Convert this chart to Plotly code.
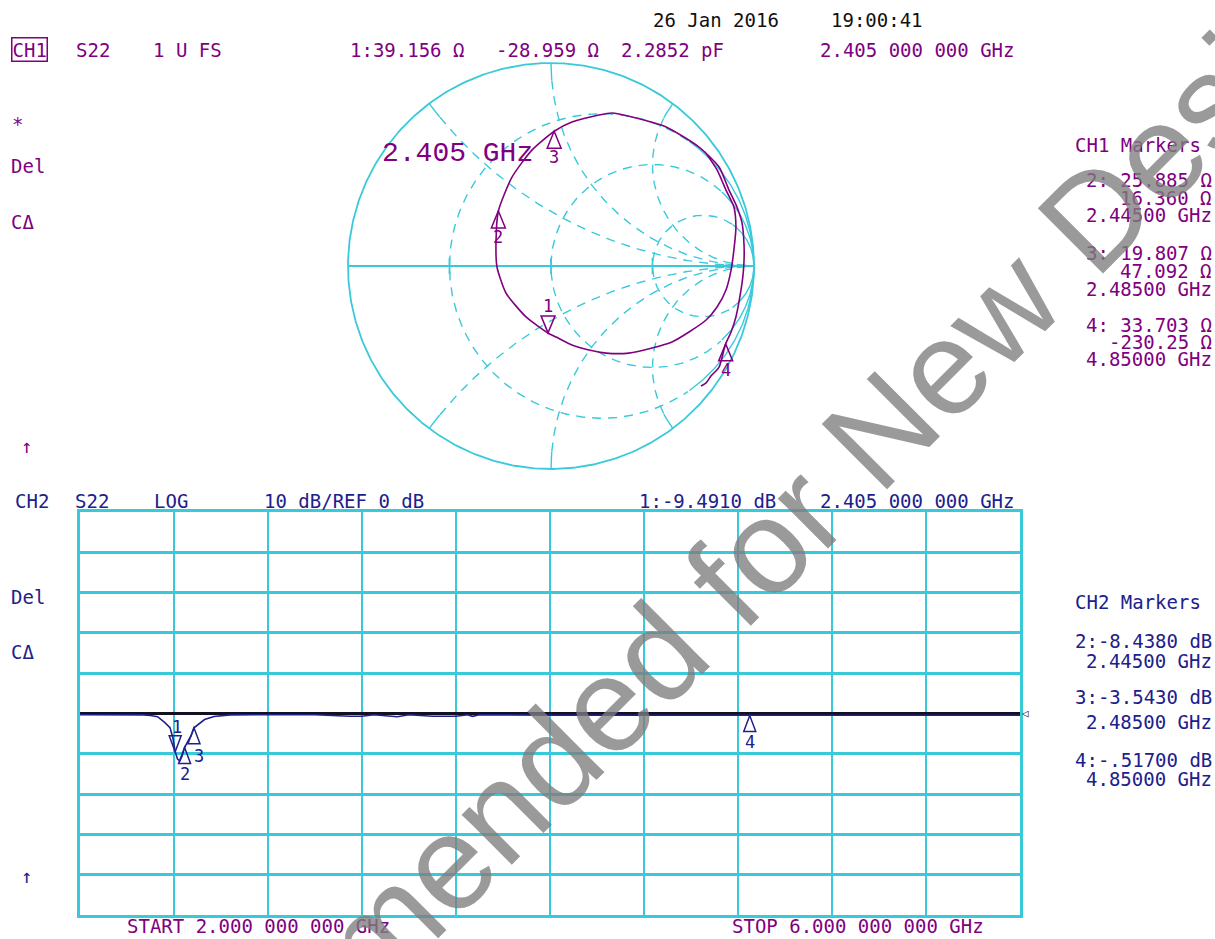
import numpy as np
import plotly.graph_objects as go

W, H = 1215, 939

# ---------------- data ----------------
# CH1 S22 Smith trace, reflection coefficient (2 -> 6 GHz order)
smith_re = [0.759, 0.818, 0.862, 0.901, 0.911, 0.901, 0.887, 0.862, 0.818, 0.764, 0.680, 0.596,
            0.498, 0.384, 0.271, 0.187, 0.103, 0.025, -0.015, -0.123, -0.222, -0.266, -0.271,
            -0.259, -0.192, -0.094, 0.016, 0.103, 0.236, 0.300, 0.399, 0.567, 0.729, 0.828,
            0.877, 0.916, 0.941, 0.951, 0.951, 0.946, 0.936, 0.911, 0.887, 0.860, 0.828, 0.788,
            0.764, 0.739]
smith_im = [0.562, 0.473, 0.374, 0.291, 0.192, 0.079, -0.020, -0.118, -0.202, -0.266, -0.325,
            -0.374, -0.404, -0.429, -0.429, -0.414, -0.389, -0.350, -0.330, -0.251, -0.133,
            -0.005, 0.113, 0.272, 0.438, 0.571, 0.664, 0.709, 0.744, 0.754, 0.734, 0.685,
            0.586, 0.488, 0.374, 0.291, 0.212, 0.103, 0.030, -0.044, -0.118, -0.251, -0.325,
            -0.384, -0.498, -0.542, -0.576, -0.591]

# CH1 markers (impedance readouts, ohms)
z0 = 50.0
mk_names = ["1", "2", "3", "4"]
mk_R = [39.156, 25.885, 19.807, 33.703]
mk_X = [-28.959, 16.360, 47.092, -230.25]

# CH2 S22 log magnitude trace
freq_ghz = [2.00, 2.10, 2.20, 2.27, 2.30, 2.33, 2.36, 2.383, 2.395, 2.405, 2.415, 2.425, 2.435,
            2.445, 2.46, 2.473, 2.485, 2.50, 2.53, 2.57, 2.64, 2.80, 3.00, 3.15, 3.20, 3.25,
            3.35, 3.40, 3.50, 3.60, 3.65, 3.67, 3.70, 4.00, 4.50, 4.85, 5.20, 5.60, 6.00]
mag_db = [-0.3, -0.3, -0.3, -0.35, -0.5, -0.8, -2.2, -3.5, -6.0, -9.49, -11.3, -11.8, -10.5,
          -8.44, -6.8, -5.5, -3.54, -2.8, -1.5, -0.75, -0.35, -0.3, -0.3, -0.7, -0.7, -0.3,
          -0.8, -0.3, -0.7, -0.7, -0.3, -0.7, -0.3, -0.4, -0.45, -0.517, -0.5, -0.45, -0.45]

# CH2 markers
mk2_f = [2.405, 2.445, 2.485, 4.85]
mk2_db = [-9.491, -8.438, -3.543, -0.517]

# Smith grid values
r_circles = [1 / 3, 1.0, 3.0]
x_arcs = [0.5, 1.0, 2.0]

# ---------------- styles ----------------
PURPLE = "#800080"
NAVY = "#20208c"
CYAN = "#38cadb"
MONO = "DejaVu Sans Mono"

fig = go.Figure()

# ---------- Smith chart grid ----------
def gam(z):
    return (z - 1) / (z + 1)

solid_x, solid_y, dash_x, dash_y = [], [], [], []

def add_curve(g):
    """split curve into solid (near rim) and dashed parts"""
    near = np.abs(g) > 0.915
    for i in range(len(g)):
        if near[i]:
            solid_x.append(g[i].real); solid_y.append(g[i].imag)
            dash_x.append(None); dash_y.append(None)
        else:
            dash_x.append(g[i].real); dash_y.append(g[i].imag)
            solid_x.append(None); solid_y.append(None)
    solid_x.append(None); solid_y.append(None)
    dash_x.append(None); dash_y.append(None)

th = np.linspace(0, 2 * np.pi, 500)
for r in r_circles:
    c = r / (1 + r); rad = 1 / (1 + r)
    add_curve(c + rad * np.exp(1j * th))

rr = np.concatenate([[0.0], np.logspace(-3, 2.7, 500)])
for x in x_arcs:
    for s in (1, -1):
        add_curve(gam(rr + 1j * s * x))

fig.add_trace(go.Scatter(x=dash_x, y=dash_y, mode="lines", xaxis="x2", yaxis="y2",
                         line=dict(color=CYAN, width=1.4, dash="9px,7px"), hoverinfo="skip"))
fig.add_trace(go.Scatter(x=solid_x, y=solid_y, mode="lines", xaxis="x2", yaxis="y2",
                         line=dict(color=CYAN, width=1.4), hoverinfo="skip"))
# outer circle
fig.add_trace(go.Scatter(x=np.cos(th), y=np.sin(th), mode="lines", xaxis="x2", yaxis="y2",
                         line=dict(color=CYAN, width=1.8), hoverinfo="skip"))
# real axis + ticks at left edges of r circles
ax_x = [-1, 1, None]; ax_y = [0, 0, None]
for r in r_circles:
    left = r / (1 + r) - 1 / (1 + r)
    ax_x += [left, left, None]; ax_y += [-0.04, 0.04, None]
fig.add_trace(go.Scatter(x=ax_x, y=ax_y, mode="lines", xaxis="x2", yaxis="y2",
                         line=dict(color=CYAN, width=1.8), hoverinfo="skip"))

# Smith trace
fig.add_trace(go.Scatter(x=smith_re, y=smith_im, mode="lines", xaxis="x2", yaxis="y2",
                         line=dict(color=PURPLE, width=1.6, shape="spline", smoothing=0.6),
                         hoverinfo="skip"))

# ---------- log magnitude ----------
fig.add_trace(go.Scatter(x=freq_ghz, y=mag_db, mode="lines", xaxis="x", yaxis="y",
                         line=dict(color=NAVY, width=1.6), hoverinfo="skip"))

shapes = []
annotations = []

def tri(xa, ya, xref, yref, up, color, w=7, h=17):
    if up:
        path = f"M0,0 L{-w},{-h} L{w},{-h} Z"
    else:
        path = f"M0,0 L{-w},{h} L{w},{h} Z"
    shapes.append(dict(type="path", xref=xref, yref=yref, xsizemode="pixel", ysizemode="pixel",
                       xanchor=xa, yanchor=ya, path=path, line=dict(color=color, width=1.5),
                       fillcolor="rgba(0,0,0,0)"))

def lab(xa, ya, xref, yref, s, color, yshift, xshift=0, size=17):
    annotations.append(dict(x=xa, y=ya, xref=xref, yref=yref, text=s, showarrow=False,
                            xanchor="center", yanchor="middle", yshift=yshift, xshift=xshift,
                            font=dict(family=MONO, size=size, color=color)))

# Smith markers from impedance readouts
for name, R, X in zip(mk_names, mk_R, mk_X):
    g = gam(complex(R, X) / z0)
    if name == "1":
        tri(g.real, g.imag, "x2", "y2", False, PURPLE)
        lab(g.real, g.imag, "x2", "y2", name, PURPLE, 27)
    else:
        tri(g.real, g.imag, "x2", "y2", True, PURPLE)
        lab(g.real, g.imag, "x2", "y2", name, PURPLE, -26)

# log-mag markers
for i, (f, d) in enumerate(zip(mk2_f, mk2_db)):
    name = mk_names[i]
    if name == "1":
        tri(f, d, "x", "y", False, NAVY, w=6, h=16)
        lab(f, d, "x", "y", name, NAVY, 25, xshift=2)
    else:
        tri(f, d, "x", "y", True, NAVY, w=6, h=16)
        if name == "3":
            lab(f, d, "x", "y", name, NAVY, -28, xshift=5)
        else:
            lab(f, d, "x", "y", name, NAVY, -26)

# reference-position indicator at right end of 0 dB line
annotations.append(dict(x=1.0, y=0, xref="x domain", yref="y", text="◁", showarrow=False,
                        xanchor="left", yanchor="middle",
                        font=dict(family=MONO, size=11, color="#333333")))

def txt(x, y, s, color, size=19, anchor="left", family=MONO, yanchor="middle", **kw):
    """x, y in page pixels (top-left origin)"""
    d = dict(x=x / W, y=1 - y / H, xref="paper", yref="paper", text=s,
             showarrow=False, xanchor=anchor, yanchor=yanchor,
             font=dict(family=family, size=size, color=color))
    d.update(kw)
    annotations.append(d)

# header / date
txt(651, 20, "26 Jan 2016", "#111111")
txt(829, 20, "19:00:41", "#111111")
txt(11, 50, "CH1", PURPLE, bordercolor=PURPLE, borderwidth=1.5, borderpad=0)
txt(74, 50, "S22", PURPLE)
txt(151, 50, "1 U FS", PURPLE)
txt(348, 50, "1:39.156 Ω", PURPLE)
txt(494, 50, "-28.959 Ω", PURPLE)
txt(619, 50, "2.2852 pF", PURPLE)
txt(818, 50, "2.405 000 000 GHz", PURPLE)

# left annunciators CH1
txt(10, 124, "*", PURPLE)
txt(9, 166, "Del", PURPLE)
txt(9, 222, "CΔ", PURPLE)
txt(19, 446, "↑", PURPLE)

# big frequency label on Smith chart
txt(380, 153, "2.405 GHz", PURPLE, size=28, family="Liberation Mono")

# CH1 marker list (right aligned)
R_EDGE = 1214
txt(1073, 145, "CH1 Markers", PURPLE)
ch1_list = [("2: 25.885 Ω", 180), ("16.360 Ω", 198), ("2.44500 GHz", 215),
            ("3: 19.807 Ω", 253), ("47.092 Ω", 271), ("2.48500 GHz", 289),
            ("4: 33.703 Ω", 325), ("-230.25 Ω", 342), ("4.85000 GHz", 359)]
for s, y in ch1_list:
    txt(R_EDGE, y, s, PURPLE, anchor="right")

# CH2 header
txt(13, 501, "CH2", NAVY)
txt(73, 501, "S22", NAVY)
txt(152, 501, "LOG", NAVY)
txt(262, 501, "10 dB/REF 0 dB", NAVY)
txt(637, 501, "1:-9.4910 dB", NAVY)
txt(818, 501, "2.405 000 000 GHz", NAVY)

txt(9, 597, "Del", NAVY)
txt(9, 652, "CΔ", NAVY)
txt(19, 876, "↑", NAVY)

txt(1073, 602, "CH2 Markers", NAVY)
ch2_list = [("2:-8.4380 dB", 641), ("2.44500 GHz", 661), ("3:-3.5430 dB", 697),
            ("2.48500 GHz", 722), ("4:-.51700 dB", 760), ("4.85000 GHz", 779)]
for s, y in ch2_list:
    txt(R_EDGE, y, s, NAVY, anchor="right")

# sweep limits (anchored at the bottom edge so they are not clipped)
txt(125, 939, "START 2.000 000 000 GHz", PURPLE, yanchor="bottom")
txt(730, 939, "STOP 6.000 000 000 GHz", PURPLE, yanchor="bottom")

# watermark
txt(722, 588, "Recommended for New Designs", "rgba(125,125,125,0.78)", size=134,
    anchor="center", family="Liberation Sans", textangle=-45)

# ---------------- layout ----------------
SC_X, SC_Y, SR = 551, 266, 203   # Smith chart centre and radius in page pixels
sx0 = (SC_X - 1.1 * SR) / W
sx1 = (SC_X + 1.1 * SR) / W
sy0 = 1 - (SC_Y + 1.1 * SR) / H
sy1 = 1 - (SC_Y - 1.1 * SR) / H

fig.update_layout(
    width=W, height=H, margin=dict(l=0, r=0, t=0, b=0),
    paper_bgcolor="white", plot_bgcolor="rgba(0,0,0,0)", showlegend=False,
    xaxis=dict(domain=[80 / W, 1020 / W], range=[2, 6], dtick=0.4, tick0=2,
               showgrid=True, gridcolor=CYAN, gridwidth=2, showticklabels=False, ticks="",
               zeroline=False, showline=True, linecolor=CYAN, linewidth=3, mirror=True,
               anchor="y"),
    yaxis=dict(domain=[1 - 915 / H, 1 - 512 / H], range=[-50, 50], dtick=10,
               tick0=0, showgrid=True, gridcolor=CYAN, gridwidth=3, showticklabels=False,
               ticks="", zeroline=True, zerolinecolor="#111122", zerolinewidth=3,
               showline=True, linecolor=CYAN, linewidth=3, mirror=True, anchor="x"),
    xaxis2=dict(domain=[sx0, sx1], range=[-1.1, 1.1], visible=False, anchor="y2"),
    yaxis2=dict(domain=[sy0, sy1], range=[-1.1, 1.1], visible=False, anchor="x2"),
    shapes=shapes, annotations=annotations,
)

# remove the page's default body margin so the figure sits at the window's top-left corner
page_fix = "document.body.style.margin='0';document.body.style.overflow='hidden';"
fig.write_html("out.html", post_script=page_fix, config={"displayModeBar": False})
